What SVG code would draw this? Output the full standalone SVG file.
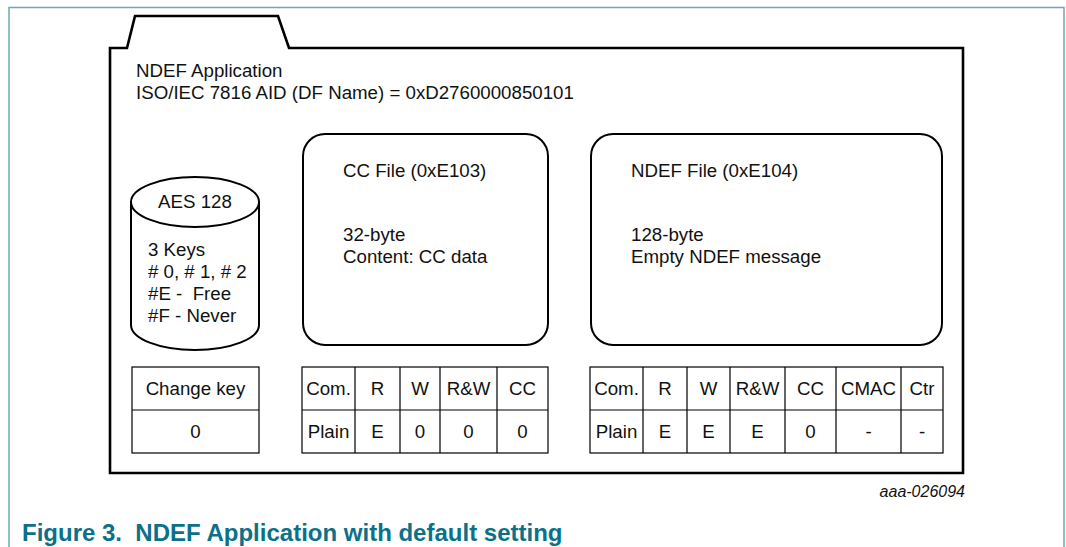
<svg xmlns="http://www.w3.org/2000/svg" width="1066" height="547" viewBox="0 0 1066 547">
<style>
text{font-family:"Liberation Sans",Arial,sans-serif;font-size:18.7px;fill:#111}
.c{text-anchor:middle}
.box{fill:none;stroke:#000;stroke-width:2}
.cell{fill:#fff;stroke:#000;stroke-width:1.2}
.frame{fill:none;stroke:#6ea8b8;stroke-width:1.5}
</style>
<rect width="1066" height="547" fill="#fff"/>
<path class="frame" d="M9,547 V7.5 H1064 V547"/>
<g id="folder">
<path d="M110,473 V48 H127 L135,16 H278 L289,48 H963 V473 Z" fill="none" stroke="#000" stroke-width="2.6" stroke-linejoin="miter"/>
<text x="136" y="77">NDEF Application</text>
<text x="136" y="99">ISO/IEC 7816 AID (DF Name) = 0xD2760000850101</text>
</g>
<g id="keystore">
<path d="M131,202 V325 A64,25 0 0 0 259,325 V202" fill="#fff" stroke="#000" stroke-width="2"/>
<ellipse cx="195" cy="202" rx="64" ry="25" fill="#fff" stroke="#000" stroke-width="2"/>
<text class="c" x="195" y="208">AES 128</text>
<text x="148" y="256">3 Keys</text>
<text x="148" y="278"># 0, # 1, # 2</text>
<text x="148" y="300" xml:space="preserve">#E -  Free</text>
<text x="148" y="322">#F - Never</text>
</g>
<g id="ccfile">
<rect class="box" x="303" y="134" width="245" height="211" rx="22"/>
<text x="343" y="177">CC File (0xE103)</text>
<text x="343" y="241">32-byte</text>
<text x="343" y="263">Content: CC data</text>
</g>
<g id="ndeffile">
<rect class="box" x="591" y="134" width="351" height="211" rx="22"/>
<text x="631" y="177">NDEF File (0xE104)</text>
<text x="631" y="241">128-byte</text>
<text x="631" y="263">Empty NDEF message</text>
</g>
<g id="changekey">
<rect class="cell" x="132" y="367" width="127" height="86"/>
<line class="cell" x1="132" y1="410" x2="259" y2="410"/>
<text class="c" x="195.5" y="395">Change key</text>
<text class="c" x="195.5" y="438">0</text>
</g>
<g id="cc-access">
<rect class="cell" x="302" y="367" width="246" height="86"/>
<path class="cell" d="M302,410 H548 M355,367 V453 M400,367 V453 M440,367 V453 M497,367 V453"/>
<text class="c" x="328.5" y="395">Com.</text>
<text class="c" x="377.5" y="395">R</text>
<text class="c" x="420" y="395">W</text>
<text class="c" x="468.5" y="395">R&amp;W</text>
<text class="c" x="522.5" y="395">CC</text>
<text class="c" x="328.5" y="438">Plain</text>
<text class="c" x="377.5" y="438">E</text>
<text class="c" x="420" y="438">0</text>
<text class="c" x="468.5" y="438">0</text>
<text class="c" x="522.5" y="438">0</text>
</g>
<g id="ndef-access">
<rect class="cell" x="590" y="367" width="353" height="86"/>
<path class="cell" d="M590,410 H943 M643,367 V453 M687,367 V453 M730,367 V453 M785,367 V453 M836,367 V453 M901,367 V453"/>
<text class="c" x="616.5" y="395">Com.</text>
<text class="c" x="665" y="395">R</text>
<text class="c" x="708.5" y="395">W</text>
<text class="c" x="757.5" y="395">R&amp;W</text>
<text class="c" x="810.5" y="395">CC</text>
<text class="c" x="868.5" y="395">CMAC</text>
<text class="c" x="922" y="395">Ctr</text>
<text class="c" x="616.5" y="438">Plain</text>
<text class="c" x="665" y="438">E</text>
<text class="c" x="708.5" y="438">E</text>
<text class="c" x="757.5" y="438">E</text>
<text class="c" x="810.5" y="438">0</text>
<text class="c" x="868.5" y="438">-</text>
<text class="c" x="922" y="438">-</text>
</g>
<text x="965" y="497" style="font-size:16px;font-style:italic;text-anchor:end">aaa-026094</text>
<text x="22" y="541" style="font-size:24px;font-weight:bold;fill:#0b7189" xml:space="preserve">Figure 3.  NDEF Application with default setting</text>
</svg>
